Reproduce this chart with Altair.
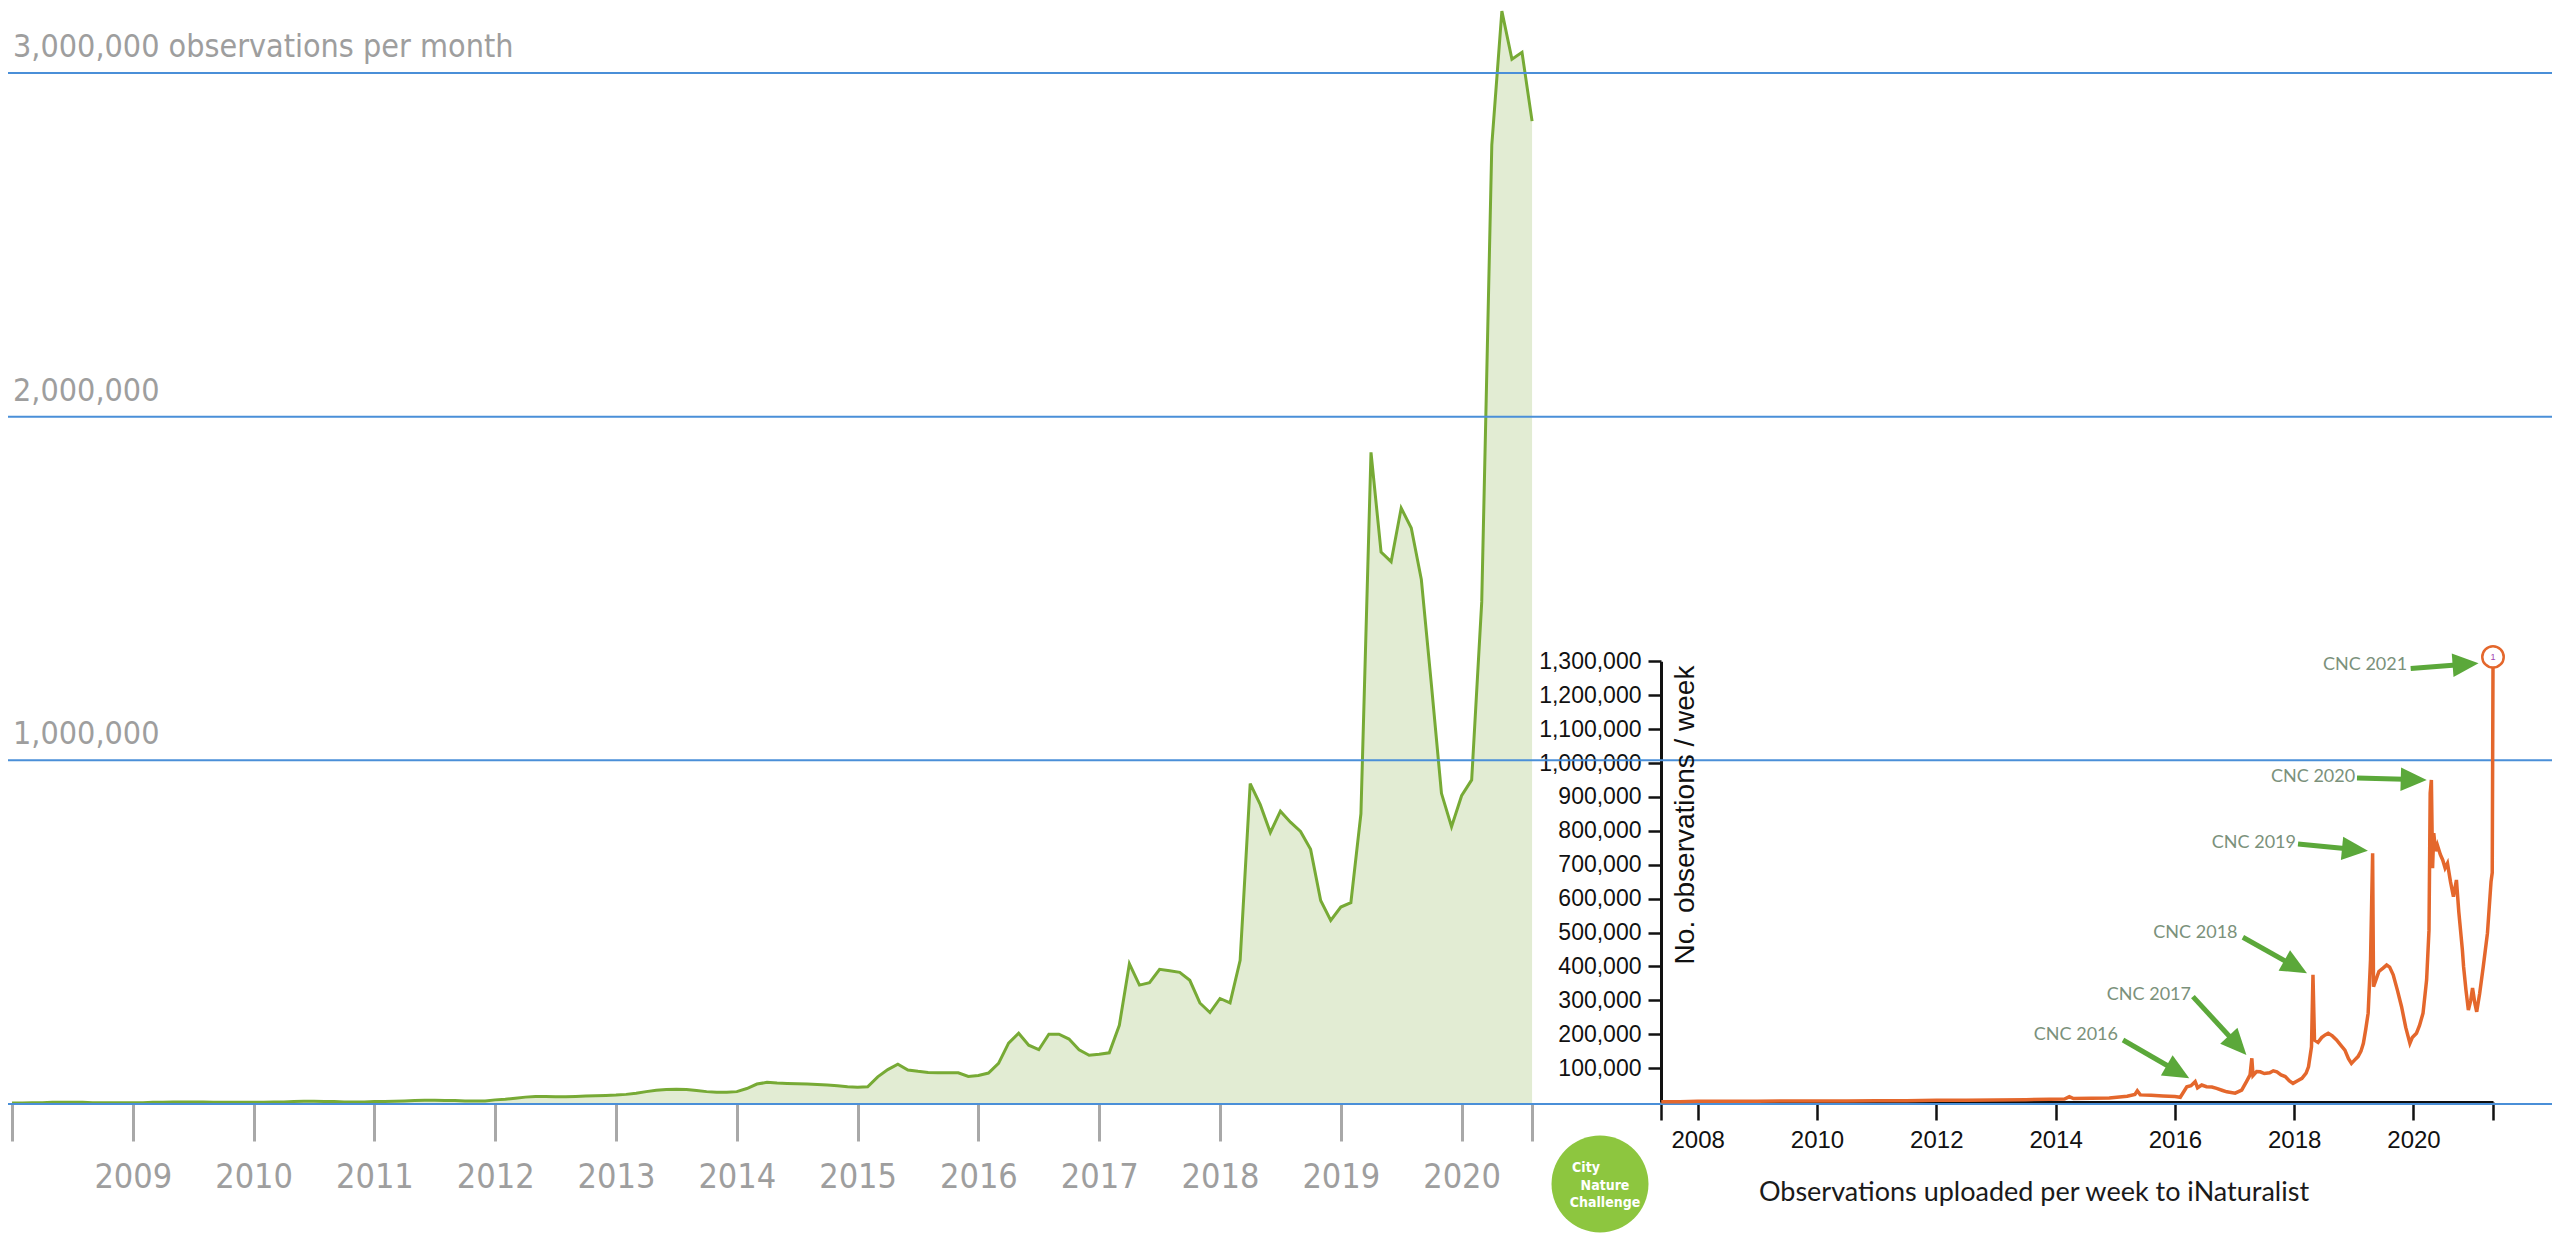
import math
import altair as alt
import pandas as pd

# ---------------- canvas ----------------
W, H = 2544, 1237
NARROW = "Liberation Sans Narrow, DejaVu Sans Condensed, Liberation Sans, sans-serif"
SANS = "Liberation Sans, Arial, sans-serif"

# ---------------- left chart data: observations per month (thousands) ----------------
OBS_2008 = [3, 3, 4, 4, 5, 5, 5, 5, 4, 4, 4, 4]
OBS_2009 = [4, 4, 5, 5, 6, 6, 6, 6, 5, 5, 5, 5]
OBS_2010 = [5, 5, 6, 6, 7, 8, 8, 7, 7, 6, 6, 6]
OBS_2011 = [7, 7, 8, 9, 10, 11, 11, 10, 10, 9, 9, 9]
OBS_2012 = [12, 14, 17, 20, 22, 22, 21, 21, 22, 23, 24, 25]
OBS_2013 = [26, 28, 31, 36, 40, 42, 43, 42, 39, 36, 34, 34]
OBS_2014 = [36, 45, 58, 63, 61, 60, 59, 58, 57, 55, 53, 50]
OBS_2015 = [49, 50, 79, 100, 116, 99, 95, 92, 91, 91, 91, 80]
OBS_2016 = [83, 90, 118, 177, 206, 171, 158, 203, 203, 189, 158, 142]
OBS_2017 = [145, 149, 229, 408, 346, 353, 392, 388, 383, 360, 294, 266]
OBS_2018 = [307, 294, 418, 932, 871, 790, 852, 820, 793, 741, 592, 534]
OBS_2019 = [573, 586, 845, 1896, 1606, 1578, 1734, 1676, 1526, 1220, 904, 807]
OBS_2020 = [897, 943, 1461, 2790, 3180, 3040, 3060, 2860]
MONTHLY = [(2008, OBS_2008), (2009, OBS_2009), (2010, OBS_2010), (2011, OBS_2011),
           (2012, OBS_2012), (2013, OBS_2013), (2014, OBS_2014), (2015, OBS_2015),
           (2016, OBS_2016), (2017, OBS_2017), (2018, OBS_2018), (2019, OBS_2019),
           (2020, OBS_2020)]

GRID_VALUES = [0, 1_000_000, 2_000_000, 3_000_000]
GRID_LABEL_VALUES = [1_000_000, 2_000_000, 3_000_000]
GRID_LABELS = ["1,000,000", "2,000,000", "3,000,000 observations per month"]
LEFT_TICKS = [2008, 2009, 2010, 2011, 2012, 2013, 2014, 2015, 2016, 2017, 2018, 2019, 2020, 2008 + 151 / 12]

# ---------------- right chart data: observations uploaded per week ----------------
WEEK_YEAR = [2007.39, 2007.7, 2008.0, 2008.5, 2009.0, 2009.5, 2010.0, 2010.5, 2011.0, 2011.5,
             2012.0, 2012.5, 2013.0, 2013.5, 2013.9, 2014.15, 2014.23, 2014.3, 2014.6, 2014.9,
             2015.2, 2015.33, 2015.37, 2015.42, 2015.6, 2015.8, 2016.0, 2016.09, 2016.2, 2016.27,
             2016.34, 2016.38, 2016.45, 2016.53, 2016.62, 2016.7, 2016.8, 2016.87, 2017.01, 2017.12,
             2017.2, 2017.26, 2017.29, 2017.31, 2017.37, 2017.43, 2017.5, 2017.59, 2017.65, 2017.71,
             2017.78, 2017.85, 2017.92, 2017.98, 2018.05, 2018.13, 2018.2, 2018.24, 2018.29, 2018.315,
             2018.34, 2018.4, 2018.46, 2018.52, 2018.57, 2018.64, 2018.71, 2018.78, 2018.85, 2018.91,
             2018.96, 2019.02, 2019.07, 2019.12, 2019.16, 2019.2, 2019.24, 2019.28, 2019.315, 2019.33,
             2019.36, 2019.42, 2019.49, 2019.55, 2019.6, 2019.66, 2019.73, 2019.8, 2019.87, 2019.94,
             2019.98, 2020.05, 2020.1, 2020.16, 2020.22, 2020.26, 2020.28, 2020.30, 2020.32, 2020.34,
             2020.37, 2020.40, 2020.45, 2020.49, 2020.53, 2020.57, 2020.62, 2020.67, 2020.72, 2020.76,
             2020.82, 2020.84, 2020.88, 2020.92, 2020.96, 2020.99, 2021.03, 2021.06, 2021.11, 2021.17,
             2021.24, 2021.30, 2021.32, 2021.333]
WEEK_OBS_K = [1, 1, 2, 2, 2, 3, 3, 3, 4, 4,
              5, 5, 6, 7, 8, 9, 16, 10, 11, 12,
              17, 22, 33, 21, 20, 18, 16, 14, 45, 48,
              60, 42, 50, 45, 44, 40, 34, 30, 26, 35,
              60, 80, 129, 78, 90, 89, 84, 86, 92, 89,
              80, 75, 62, 55, 62, 70, 85, 104, 163, 375,
              183, 176, 190, 198, 203, 195, 183, 168, 153, 128,
              114, 125, 134, 150, 173, 215, 262, 420, 734, 340,
              355, 385, 395, 404, 398, 375, 330, 281, 220, 173,
              190, 203, 225, 262, 360, 507, 911, 950, 690, 793,
              740, 758, 730, 714, 690, 704, 650, 606, 655, 560,
              448, 399, 330, 271, 300, 336, 290, 266, 321, 400,
              498, 650, 676, 1280]
PEAK_2021_YEAR = [2021.333]
PEAK_2021_OBS = [1313000]

RIGHT_TICKS = [2007.385, 2008, 2010, 2012, 2014, 2016, 2018, 2020, 2021.333]
RIGHT_Y_TICKS = [100000 * i for i in range(1, 14)]

ANN_LABEL = ["CNC 2016", "CNC 2017", "CNC 2018", "CNC 2019", "CNC 2020", "CNC 2021"]
ANN_TEXT_X = [2015.046, 2016.27, 2017.05, 2018.03, 2019.022, 2019.894]
ANN_TEXT_Y = [198e3, 316e3, 498e3, 763e3, 960e3, 1289e3]
ANN_FROM_X = [2015.13, 2016.302, 2017.14, 2018.064, 2019.053, 2019.953]
ANN_FROM_Y = [183e3, 311e3, 486e3, 761e3, 956e3, 1279e3]
ANN_TIP_X = [2016.241, 2017.199, 2018.215, 2019.236, 2020.222, 2021.091]
ANN_TIP_Y = [70e3, 139e3, 380e3, 741e3, 950e3, 1294e3]

# ---------------- scales ----------------
LX_DOMAIN = [2008, 2008 + 151 / 12]
LX_RANGE = [4, 4 + 151 / 12 * 120.8]
LY_DOMAIN = [0, 3_000_000]
LY_RANGE = [1096, 65]
RX_DOMAIN = [2007.385, 2021.333]
RX_RANGE = [1653, 2485]
RY_DOMAIN = [0, 1_300_000]
RY_RANGE = [1094, 653.3]

LX = alt.Scale(domain=LX_DOMAIN, range=LX_RANGE, nice=False, zero=False)
LY = alt.Scale(domain=LY_DOMAIN, range=LY_RANGE, nice=False)
RX = alt.Scale(domain=RX_DOMAIN, range=RX_RANGE, nice=False, zero=False)
RY = alt.Scale(domain=RY_DOMAIN, range=RY_RANGE, nice=False)

GREEN_FILL = "#e2ecd3"
GREEN_LINE = "#77aa35"
BLUE = "#4a8fd8"
ORANGE = "#e4672c"
ARROW_GREEN = "#5ba83a"

# ---------------- tables ----------------
t_vals, o_vals = [], []
for yr, lst in MONTHLY:
    for i, v in enumerate(lst):
        t_vals.append(yr + i / 12)
        o_vals.append(v * 1000)
left_df = pd.DataFrame({"t": t_vals, "obs": o_vals})
right_df = pd.DataFrame({"yr": WEEK_YEAR, "obs": [v * 1000 for v in WEEK_OBS_K]})
peak_df = pd.DataFrame({"yr": PEAK_2021_YEAR, "obs": PEAK_2021_OBS, "n": ["1"]})
grid_df = pd.DataFrame({"v": GRID_VALUES})
glab_df = pd.DataFrame({"v": GRID_LABEL_VALUES, "label": GRID_LABELS})

PX_PER_YR = (RX_RANGE[1] - RX_RANGE[0]) / (RX_DOMAIN[1] - RX_DOMAIN[0])
PX_PER_OBS = (RY_RANGE[0] - RY_RANGE[1]) / (RY_DOMAIN[1] - RY_DOMAIN[0])
HEAD = 13
rows = []
for lab, tx, ty, fx, fy, hx, hy in zip(ANN_LABEL, ANN_TEXT_X, ANN_TEXT_Y, ANN_FROM_X,
                                       ANN_FROM_Y, ANN_TIP_X, ANN_TIP_Y):
    dx = (hx - fx) * PX_PER_YR
    dy = -(hy - fy) * PX_PER_OBS
    L = math.hypot(dx, dy)
    ux, uy = dx / L, dy / L
    rows.append(dict(label=lab, tx=tx, ty=ty, fx=fx, fy=fy,
                     cx=hx - HEAD * ux / PX_PER_YR, cy=hy + HEAD * uy / PX_PER_OBS,
                     ang=math.degrees(math.atan2(dy, dx)) % 360))
ann_df = pd.DataFrame(rows)

one = pd.DataFrame({"a": [0]})

# ---------------- left chart ----------------
left_axis = alt.Axis(orient="bottom", offset=LY_RANGE[0] - H, values=LEFT_TICKS,
                     labelExpr="datum.value >= 2009 && datum.value == floor(datum.value) ? format(datum.value, 'd') : ''",
                     domain=False, grid=False, tickColor="#a8a8a8", tickWidth=3, tickSize=37,
                     labelColor="#9e9e9e", labelFont=NARROW, labelFontSize=34, labelPadding=19,
                     labelBaseline="top", labelFlush=False, labelOverlap=False, title=None)

area = alt.Chart(left_df).mark_area(color=GREEN_FILL, opacity=1).encode(
    x=alt.X("t:Q", scale=LX, axis=left_axis),
    y=alt.Y("obs:Q", scale=LY, axis=None),
)
gline = alt.Chart(left_df).mark_line(color=GREEN_LINE, strokeWidth=3).encode(
    x=alt.X("t:Q", scale=LX, axis=None),
    y=alt.Y("obs:Q", scale=LY, axis=None),
)
rules = alt.Chart(grid_df).mark_rule(color=BLUE, strokeWidth=2).encode(
    y=alt.Y("v:Q", scale=LY, axis=None), x=alt.value(0), x2=alt.value(W)
)
glabels = alt.Chart(glab_df).mark_text(align="left", baseline="alphabetic", dy=-16, font=NARROW,
                                       fontSize=32, color="#9e9e9e").encode(
    y=alt.Y("v:Q", scale=LY, axis=None), x=alt.value(5), text="label:N"
)

# ---------------- right chart ----------------
rx_axis = alt.Axis(orient="bottom", offset=RY_RANGE[0] - H, values=RIGHT_TICKS,
                   labelExpr="datum.value % 2 == 0 ? format(datum.value, 'd') : ''",
                   domainColor="#111111", domainWidth=3, tickColor="#111111", tickWidth=2.5,
                   tickSize=18, labelColor="#111111", labelFont=SANS, labelFontSize=24,
                   labelPadding=8, labelFlush=False, labelOverlap=False, grid=False, title=None)
ry_axis = alt.Axis(orient="left", offset=-RX_RANGE[0], values=RIGHT_Y_TICKS, format=",d",
                   domainColor="#111111", domainWidth=3, tickColor="#111111", tickWidth=2.5,
                   tickSize=13, labelColor="#111111", labelFont=SANS, labelFontSize=23,
                   labelPadding=7, labelOverlap=False, grid=False, title=None)

oline = alt.Chart(right_df).mark_line(color=ORANGE, strokeWidth=3.5).encode(
    x=alt.X("yr:Q", scale=RX, axis=rx_axis),
    y=alt.Y("obs:Q", scale=RY, axis=ry_axis),
)
shafts = alt.Chart(ann_df).mark_rule(color=ARROW_GREEN, strokeWidth=5).encode(
    x=alt.X("fx:Q", scale=RX, axis=None), x2="cx:Q",
    y=alt.Y("fy:Q", scale=RY, axis=None), y2="cy:Q",
)
heads = alt.Chart(ann_df).mark_point(shape="M 1 0 L -1 -0.9 L -1 0.9 Z", filled=True,
                                     size=(2 * HEAD) ** 2, color=ARROW_GREEN, opacity=1).encode(
    x=alt.X("cx:Q", scale=RX, axis=None),
    y=alt.Y("cy:Q", scale=RY, axis=None),
    angle=alt.Angle("ang:Q", scale=None),
)
ann_text = alt.Chart(ann_df).mark_text(align="right", baseline="middle", font="Lato",
                                       fontSize=18, color="#7b917b").encode(
    x=alt.X("tx:Q", scale=RX, axis=None),
    y=alt.Y("ty:Q", scale=RY, axis=None),
    text="label:N",
)
peak_circle = alt.Chart(peak_df).mark_point(shape="circle", size=460, filled=True, fill="white",
                                            stroke=ORANGE, strokeWidth=2.5, opacity=1).encode(
    x=alt.X("yr:Q", scale=RX, axis=None), y=alt.Y("obs:Q", scale=RY, axis=None)
)
peak_text = alt.Chart(peak_df).mark_text(fontSize=9, color="#a040b0", font=SANS).encode(
    x=alt.X("yr:Q", scale=RX, axis=None), y=alt.Y("obs:Q", scale=RY, axis=None), text="n:N"
)

ytitle = alt.Chart(one).mark_text(text="No. observations / week", angle=270, font=SANS,
                                  fontSize=28, color="#111111", align="center",
                                  baseline="middle").encode(x=alt.value(1678), y=alt.value(807))
xtitle = alt.Chart(one).mark_text(text="Observations uploaded per week to iNaturalist", font="Lato",
                                  fontSize=27, color="#1a1a1a", align="center",
                                  baseline="middle").encode(x=alt.value(2026), y=alt.value(1185))

# ---------------- City Nature Challenge badge ----------------
logo = alt.Chart(one).mark_point(shape="circle", filled=True, size=9400, color="#8dc63f",
                                 opacity=1).encode(x=alt.value(1592), y=alt.value(1176))
logo_t1 = alt.Chart(one).mark_text(text="City", font=NARROW, fontWeight="bold", fontSize=14,
                                   color="white").encode(x=alt.value(1578), y=alt.value(1160))
logo_t2 = alt.Chart(one).mark_text(text="Nature", font=NARROW, fontWeight="bold", fontSize=14,
                                   color="white").encode(x=alt.value(1597), y=alt.value(1178))
logo_t3 = alt.Chart(one).mark_text(text="Challenge", font=NARROW, fontWeight="bold", fontSize=14,
                                   color="white").encode(x=alt.value(1597), y=alt.value(1195))

chart = alt.layer(
    area, gline, rules, glabels,
    oline, shafts, heads, ann_text, peak_circle, peak_text, ytitle, xtitle,
    logo, logo_t1, logo_t2, logo_t3,
).resolve_scale(x="independent", y="independent").properties(
    width=W, height=H, autosize=alt.AutoSizeParams(type="none"), padding=0,
    background="white",
).configure_view(strokeWidth=0)

chart.save("out.html", embed_options={"renderer": "svg", "actions": False})
